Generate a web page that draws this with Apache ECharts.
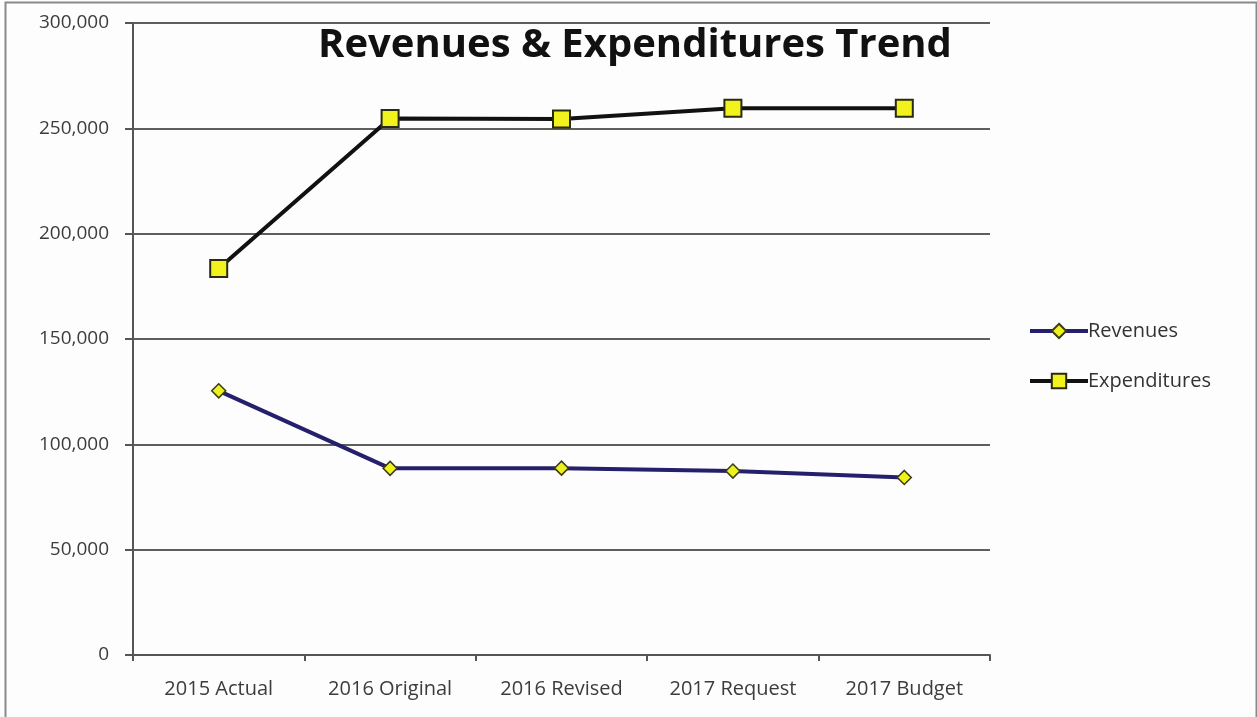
<!DOCTYPE html>
<html>
<head>
<meta charset="utf-8">
<script src="https://cdn.jsdelivr.net/npm/echarts@6/dist/echarts.min.js"></script>
<style>
  html, body { margin: 0; padding: 0; background: #fefdfd; }
  #chart { width: 1257px; height: 717px; }
</style>
</head>
<body>
<div id="chart"></div>
<script>
// Fiscal periods along the category axis
const categories = ['2015 Actual', '2016 Original', '2016 Revised', '2017 Request', '2017 Budget'];
// Amounts per period
const revenues = [125400, 88600, 88700, 87300, 84300];
const expenditures = [183500, 254700, 254400, 259500, 259500];
// Value axis range
const yMin = 0;
const yMax = 300000;
const yStep = 50000;

const chart = echarts.init(document.getElementById('chart'));
const labelFont = '"Open Sans", "Liberation Sans", sans-serif';

const revColor = '#24206c';
const expColor = '#111111';

chart.setOption({
  backgroundColor: '#fefdfd',
  animation: false,
  title: {
    text: 'Revenues & Expenditures Trend',
    left: 630,
    top: 21,
    textAlign: 'center',
    textStyle: {
      fontFamily: labelFont,
      fontWeight: 'bold',
      fontSize: 40,
      color: '#111'
    }
  },
  legend: {
    orient: 'vertical',
    left: 1028,
    top: 321,
    padding: 0,
    itemWidth: 58,
    itemHeight: 18,
    itemGap: 30,
    textStyle: { fontFamily: labelFont, fontSize: 20, color: '#333', padding: [0, 0, 0, -5] },
    data: [
      { name: 'Revenues', lineStyle: { width: 4, color: revColor } },
      { name: 'Expenditures', lineStyle: { width: 4, color: expColor } }
    ]
  },
  grid: { left: 133, right: 267, top: 23, bottom: 62 },
  xAxis: {
    type: 'category',
    data: categories,
    boundaryGap: true,
    axisLine: { lineStyle: { color: '#555', width: 2 } },
    axisTick: { show: true, length: 6, lineStyle: { color: '#555', width: 2 } },
    axisLabel: { fontFamily: labelFont, fontSize: 20, color: '#3c3c3c', margin: 24 }
  },
  yAxis: {
    type: 'value',
    min: yMin,
    max: yMax,
    interval: yStep,
    axisLine: { show: true, lineStyle: { color: '#555', width: 2 } },
    axisTick: { show: true, length: 8, lineStyle: { color: '#555', width: 2 } },
    axisLabel: {
      fontFamily: labelFont,
      fontSize: 19,
      color: '#3c3c3c',
      margin: 24,
      formatter: v => v.toLocaleString('en-US')
    },
    splitLine: { lineStyle: { color: '#5e5e5e', width: 2 } }
  },
  series: [
    {
      name: 'Revenues',
      type: 'line',
      data: revenues,
      symbol: 'diamond',
      symbolSize: 14,
      color: revColor,
      lineStyle: { color: revColor, width: 4 },
      itemStyle: { color: '#eef21c', borderColor: '#3a3a18', borderWidth: 1.5 }
    },
    {
      name: 'Expenditures',
      type: 'line',
      data: expenditures,
      symbol: 'rect',
      symbolSize: 17,
      color: expColor,
      lineStyle: { color: expColor, width: 4 },
      itemStyle: { color: '#f2f21c', borderColor: '#2a2a10', borderWidth: 2 }
    }
  ],
  graphic: [
    {
      type: 'rect',
      left: 3,
      top: 0,
      shape: { width: 1251, height: 716 },
      style: { fill: 'none', stroke: '#8a8a8a', lineWidth: 2 },
      silent: true
    }
  ]
});
</script>
</body>
</html>
